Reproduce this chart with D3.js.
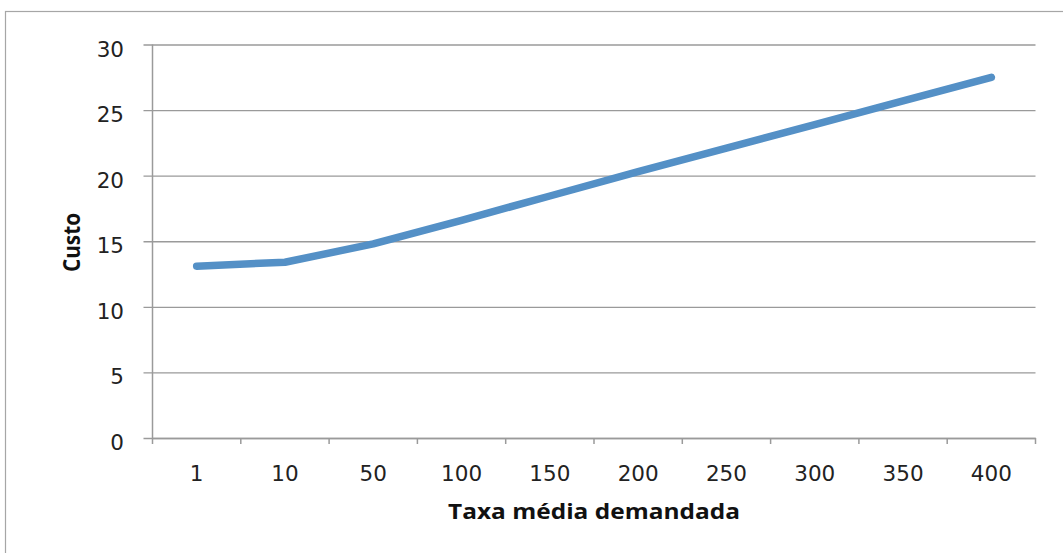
<!DOCTYPE html>
<html>
<head>
<meta charset="utf-8">
<script src="https://cdn.jsdelivr.net/npm/d3@7"></script>
<style>
  html, body { margin: 0; padding: 0; background: #fff; }
  svg { display: block; }
</style>
</head>
<body>
<svg id="chart" width="1063" height="553"></svg>
<script>
const categories = ["1", "10", "50", "100", "150", "200", "250", "300", "350", "400"];
const custo = [13.1, 13.4, 14.8, 16.6, 18.45, 20.3, 22.1, 23.9, 25.7, 27.5];
const yTicks = [0, 5, 10, 15, 20, 25, 30];
const xTitle = "Taxa média demandada";
const yTitle = "Custo";

(function () {
const svg = d3.select("#chart");
const pLeft = 152.5, pRight = 1035.5, pTop = 44.5, pBottom = 438;
const font = "'Open Sans', 'DejaVu Sans', sans-serif";
const tickFont = "'DejaVu Sans', 'Open Sans', sans-serif";

// outer border (right/bottom edges fall outside the picture)
svg.append("rect")
  .attr("x", 5.5).attr("y", 11.5)
  .attr("width", 1080).attr("height", 580)
  .attr("fill", "#fff").attr("stroke", "#a6a6a6").attr("stroke-width", 1.2);

const x = d3.scaleBand().domain(categories).range([pLeft, pRight]).padding(0);
const y = d3.scaleLinear().domain([0, 30]).range([pBottom, pTop]);

// horizontal gridlines + y ticks
const yAxis = d3.axisLeft(y).tickValues(yTicks).tickSize(-(pRight - pLeft)).tickSizeOuter(0).tickPadding(19);
const gy = svg.append("g").attr("transform", `translate(${pLeft},0)`).call(yAxis);
gy.select(".domain").remove();
gy.selectAll(".tick line").attr("stroke", "#9a9a9a").attr("stroke-width", 1.3).attr("x1", -9);
gy.selectAll(".tick text")
  .attr("font-family", tickFont).attr("font-size", 21.5).attr("fill", "#222")
  .attr("dy", null).attr("y", 11.5).attr("x", -28.5);

// y axis line
svg.append("line").attr("x1", pLeft).attr("x2", pLeft).attr("y1", pTop).attr("y2", pBottom)
  .attr("stroke", "#9a9a9a").attr("stroke-width", 1.5);

// x axis
const xAxis = d3.axisBottom(x).tickSize(0).tickPadding(0);
const gx = svg.append("g").attr("transform", `translate(0,${pBottom})`).call(xAxis);
gx.select(".domain").attr("stroke", "#9a9a9a").attr("stroke-width", 1.5);
gx.selectAll(".tick text")
  .attr("font-family", tickFont).attr("font-size", 21.5).attr("fill", "#222")
  .attr("dy", null).attr("y", 42.7);
// tick marks at category boundaries
const bounds = categories.map(c => x(c)).concat([x(categories[categories.length - 1]) + x.bandwidth()]);
gx.selectAll(".bound").data(bounds).enter().append("line")
  .attr("class", "bound")
  .attr("x1", d => d).attr("x2", d => d).attr("y1", 0).attr("y2", 6)
  .attr("stroke", "#9a9a9a").attr("stroke-width", 1.5);

// line series
const line = d3.line()
  .x((d, i) => x(categories[i]) + x.bandwidth() / 2)
  .y(d => y(d));
svg.append("path").datum(custo)
  .attr("d", line)
  .attr("fill", "none").attr("stroke", "#5490c6").attr("stroke-width", 7.5)
  .attr("stroke-linecap", "round").attr("stroke-linejoin", "round");

// axis titles
svg.append("text")
  .attr("x", 594).attr("y", 519).attr("text-anchor", "middle")
  .attr("font-family", font).attr("font-weight", "bold").attr("font-size", 21).attr("fill", "#111")
  .attr("textLength", 292).attr("lengthAdjust", "spacingAndGlyphs")
  .text(xTitle);

svg.append("text")
  .attr("transform", "translate(80,242.5) rotate(-90)").attr("text-anchor", "middle")
  .attr("font-family", font).attr("font-weight", "bold").attr("font-size", 24).attr("fill", "#111")
  .attr("textLength", 59).attr("lengthAdjust", "spacingAndGlyphs")
  .text(yTitle);
})();
</script>
</body>
</html>
